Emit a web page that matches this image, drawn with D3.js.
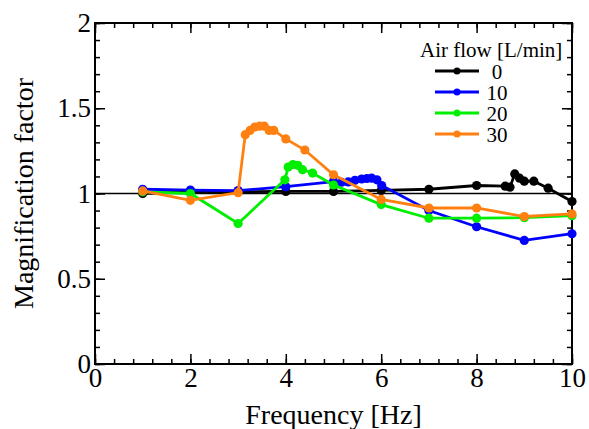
<!DOCTYPE html>
<html>
<head>
<meta charset="utf-8">
<script src="https://cdn.jsdelivr.net/npm/d3@7"></script>
<style>
  body { margin: 0; background: #fff; }
  svg { display: block; }
  svg text { font-family: "Liberation Serif", "DejaVu Serif", serif; fill: #000; }
  .tick text { font-size: 27px; }
  .axis path, .axis line { stroke: #000; }
</style>
</head>
<body>
<svg width="589" height="429"></svg>
<script>
// Air flow series [L/min]
let flows = ['0', '10', '20', '30']
let colors = ['#000000', '#0000ff', '#00ee00', '#ff8010']

// frequency [Hz], magnification factor
let freq0 = [1, 2, 3, 4, 5, 6, 7, 8, 8.6, 8.7, 8.8, 8.9, 9, 9.2, 9.5, 10]
let mag0 = [1.0, 1.01, 1.01, 1.012, 1.012, 1.018, 1.025, 1.047, 1.043, 1.037, 1.115, 1.09, 1.072, 1.072, 1.031, 0.953]

let freq10 = [1, 2, 3, 4, 5, 5.17, 5.31, 5.45, 5.59, 5.7, 5.8, 5.91, 6.01, 7, 8, 9, 10]
let mag10 = [1.025, 1.02, 1.017, 1.04, 1.07, 1.066, 1.068, 1.077, 1.085, 1.088, 1.09, 1.08, 1.047, 0.90, 0.805, 0.725, 0.764]

let freq20 = [1, 2, 3, 3.98, 4.05, 4.15, 4.25, 4.35, 4.56, 5, 6, 7, 8, 9, 10]
let mag20 = [1.01, 1.0, 0.824, 1.08, 1.155, 1.17, 1.165, 1.14, 1.12, 1.05, 0.935, 0.855, 0.855, 0.858, 0.87]

let freq30 = [1, 2, 3, 3.15, 3.25, 3.35, 3.45, 3.55, 3.65, 3.75, 4, 4.4, 5, 6, 7, 8, 9, 10]
let mag30 = [1.015, 0.96, 1.005, 1.345, 1.37, 1.39, 1.395, 1.395, 1.37, 1.37, 1.32, 1.255, 1.11, 0.965, 0.915, 0.915, 0.865, 0.88]

let xTicks = [0, 2, 4, 6, 8, 10]
let yTicks = [0, 0.5, 1, 1.5, 2]

let series = [
    { name: flows[0], x: freq0, y: mag0, color: colors[0] },
    { name: flows[1], x: freq10, y: mag10, color: colors[1] },
    { name: flows[2], x: freq20, y: mag20, color: colors[2] },
    { name: flows[3], x: freq30, y: mag30, color: colors[3] }
]

// Graph Dimensions
let width = 589
let height = 429
let margin = { left: 95, right: 17, top: 23, bottom: 65 }

let scale = {
    x: d3.scaleLinear().domain([0, 10]).range([margin.left, width - margin.right]),
    y: d3.scaleLinear().domain([0, 2]).range([height - margin.bottom, margin.top])
}

let svg = d3.select('svg')

let minorX = d3.range(0, 10.001, 0.4)
let minorY = d3.range(0, 2.001, 0.1)

// Minor ticks, all four sides, pointing inward
let minor = [
    { axis: d3.axisBottom(scale.x).tickValues(minorX), t: `translate(0,${scale.y(0)})` },
    { axis: d3.axisTop(scale.x).tickValues(minorX), t: `translate(0,${scale.y(2)})` },
    { axis: d3.axisLeft(scale.y).tickValues(minorY), t: `translate(${scale.x(0)},0)` },
    { axis: d3.axisRight(scale.y).tickValues(minorY), t: `translate(${scale.x(10)},0)` }
]
minor.forEach(m => {
    svg.append('g')
        .attr('class', 'axis')
        .attr('transform', m.t)
        .call(m.axis.tickSize(-5).tickFormat(''))
        .call(g => g.select('.domain').remove())
        .selectAll('line').attr('stroke-width', 1.5)
})

// Major ticks
svg.append('g')
    .attr('class', 'axis')
    .attr('transform', `translate(0,${scale.y(2)})`)
    .call(d3.axisTop(scale.x).tickValues(xTicks).tickSize(-10).tickSizeOuter(0).tickFormat(''))
    .call(g => g.select('.domain').remove())
    .selectAll('line').attr('stroke-width', 1.5)

svg.append('g')
    .attr('class', 'axis')
    .attr('transform', `translate(${scale.x(10)},0)`)
    .call(d3.axisRight(scale.y).tickValues(yTicks).tickSize(-10).tickSizeOuter(0).tickFormat(''))
    .call(g => g.select('.domain').remove())
    .selectAll('line').attr('stroke-width', 1.5)

svg.append('g')
    .attr('class', 'axis')
    .attr('transform', `translate(0,${scale.y(0)})`)
    .call(d3.axisBottom(scale.x).tickValues(xTicks).tickSize(-10).tickSizeOuter(0).tickPadding(4).tickFormat(d3.format('d')))
    .call(g => g.select('.domain').remove())
    .attr('font-family', null)
    .selectAll('line').attr('stroke-width', 1.5)

svg.append('g')
    .attr('class', 'axis')
    .attr('transform', `translate(${scale.x(0)},0)`)
    .call(d3.axisLeft(scale.y).tickValues(yTicks).tickSize(-10).tickSizeOuter(0).tickPadding(4).tickFormat(d => d))
    .call(g => g.select('.domain').remove())
    .call(g => g.selectAll('text').attr('dy', '0.32em'))
    .attr('font-family', null)
    .selectAll('line').attr('stroke-width', 1.5)

// Frame
svg.append('rect')
    .attr('x', scale.x(0))
    .attr('y', scale.y(2))
    .attr('width', scale.x(10) - scale.x(0))
    .attr('height', scale.y(0) - scale.y(2))
    .attr('fill', 'none')
    .attr('stroke', '#000')
    .attr('stroke-width', 2)

// Reference line at 1
svg.append('line')
    .attr('x1', scale.x(0))
    .attr('x2', scale.x(10))
    .attr('y1', scale.y(1))
    .attr('y2', scale.y(1))
    .attr('stroke', '#000')
    .attr('stroke-width', 1.5)

// Lines + markers
let line = d3.line()
    .x(d => scale.x(d[0]))
    .y(d => scale.y(d[1]))

series.forEach(s => {
    let pts = s.x.map((v, i) => [v, s.y[i]])
    let g = svg.append('g')
    g.append('path')
        .datum(pts)
        .attr('d', line)
        .attr('fill', 'none')
        .attr('stroke', s.color)
        .attr('stroke-width', 2.8)
    g.selectAll('circle')
        .data(pts)
        .enter()
        .append('circle')
        .attr('cx', d => scale.x(d[0]))
        .attr('cy', d => scale.y(d[1]))
        .attr('r', 4.6)
        .attr('fill', s.color)
})

// Legend
let legend = svg.append('g')
legend.append('text')
    .attr('x', 420)
    .attr('y', 57)
    .attr('font-size', 21)
    .text('Air flow [L/min]')

series.forEach((s, i) => {
    let y = 71 + i * 21
    legend.append('line')
        .attr('x1', 435).attr('x2', 479)
        .attr('y1', y).attr('y2', y)
        .attr('stroke', s.color)
        .attr('stroke-width', 2.8)
    legend.append('circle')
        .attr('cx', 457).attr('cy', y).attr('r', 3.5)
        .attr('fill', s.color)
    legend.append('text')
        .attr('x', 497)
        .attr('y', y + 7.5)
        .attr('text-anchor', 'middle')
        .attr('font-size', 21)
        .text(s.name)
})

// X label
svg.append('text')
    .attr('x', (scale.x(0) + scale.x(10)) / 2)
    .attr('y', 424)
    .attr('text-anchor', 'middle')
    .attr('font-size', 28)
    .text('Frequency [Hz]')

// Y label
svg.append('text')
    .attr('transform', `translate(33,${(scale.y(0) + scale.y(2)) / 2}) rotate(-90)`)
    .attr('text-anchor', 'middle')
    .attr('font-size', 28)
    .text('Magnification factor')
</script>
</body>
</html>
